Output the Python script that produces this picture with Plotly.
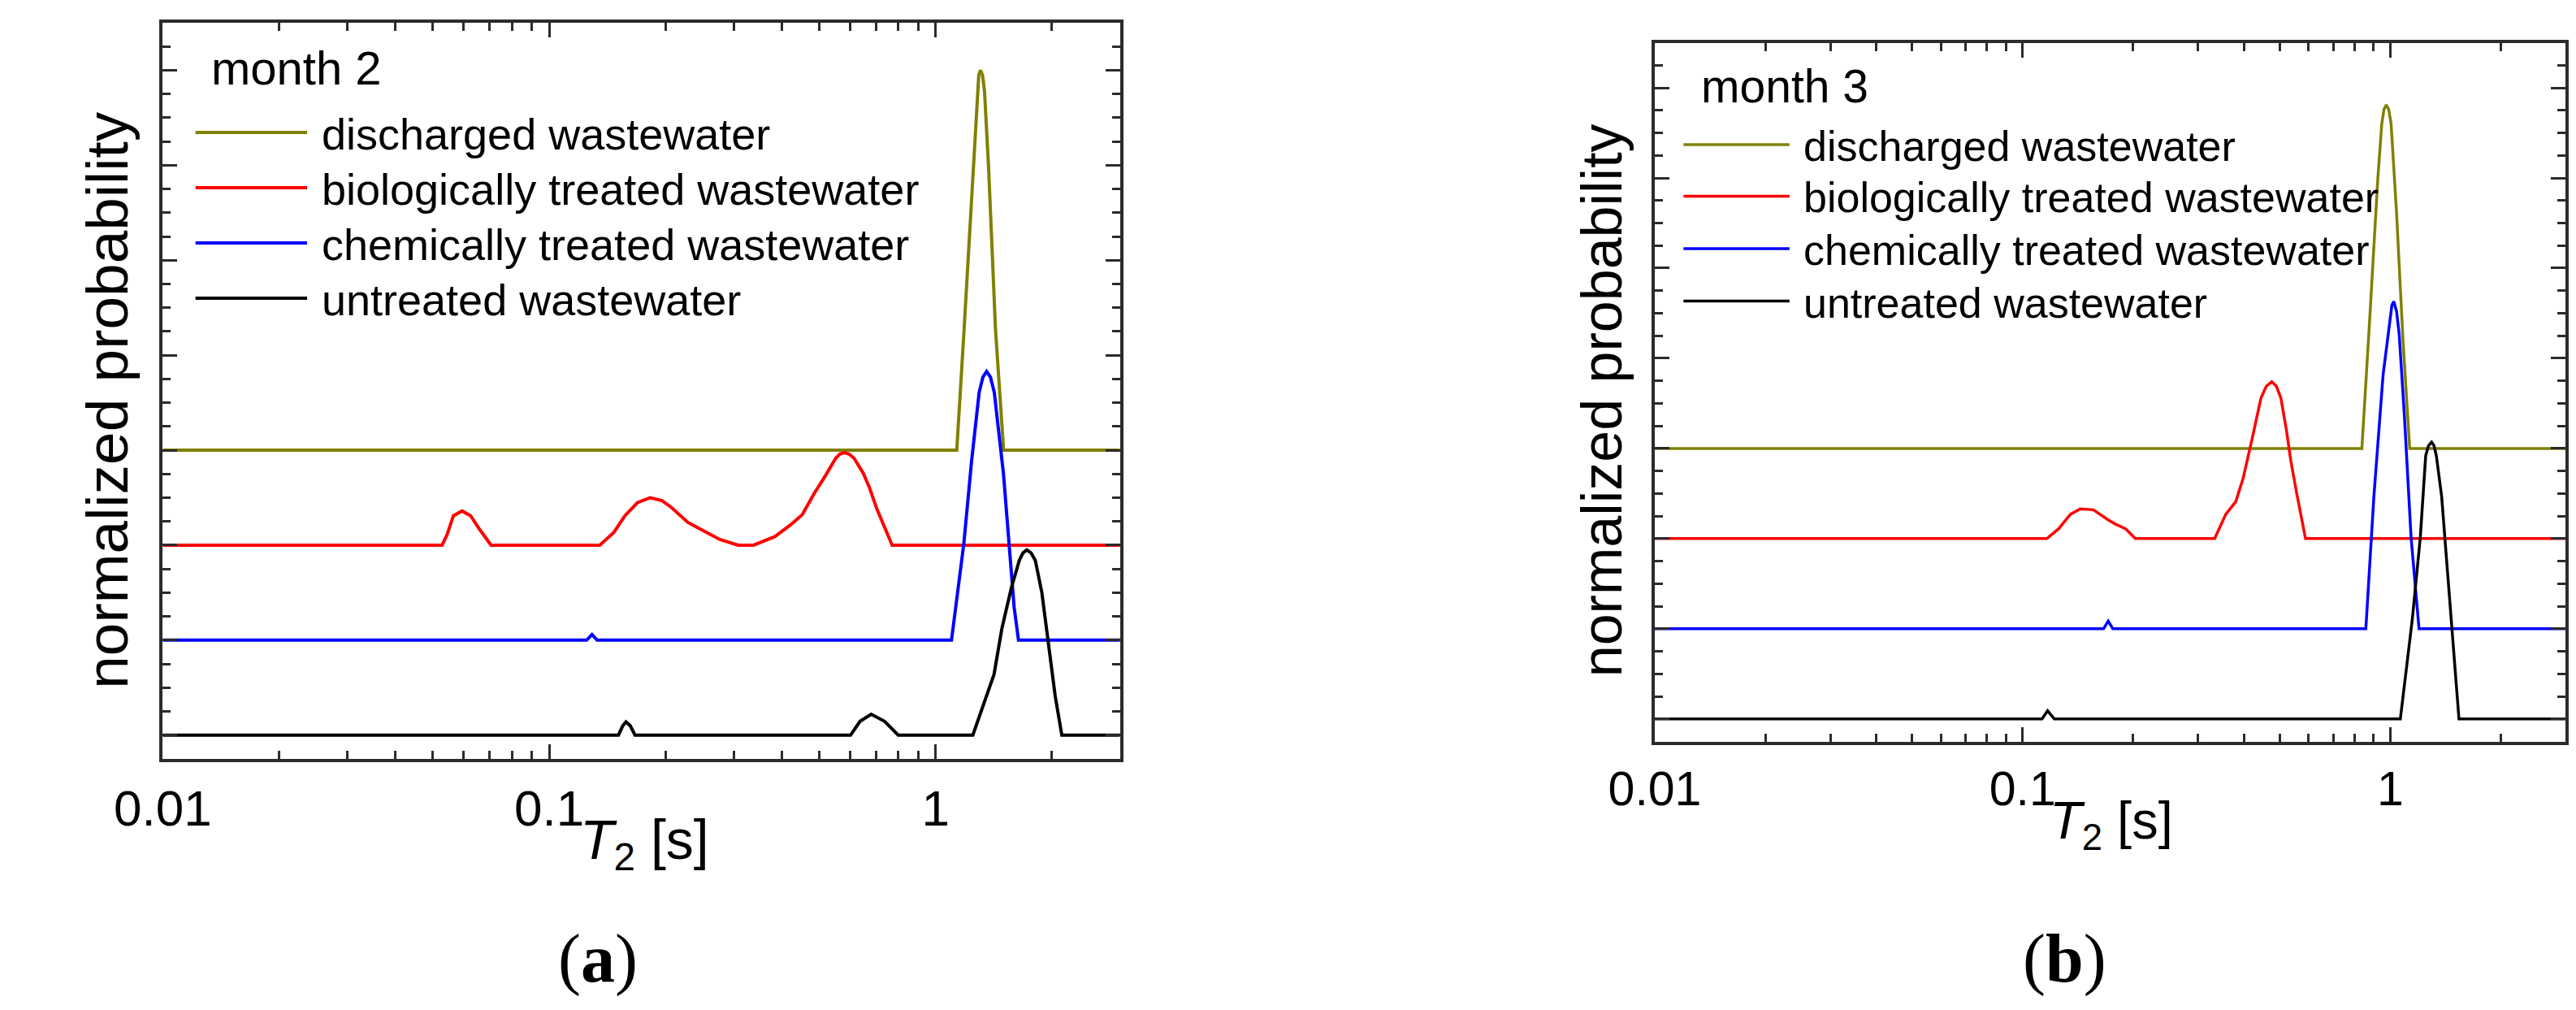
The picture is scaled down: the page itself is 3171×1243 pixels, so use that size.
import plotly.graph_objects as go

W, H = 3171, 1243

series_names = ["discharged wastewater", "biologically treated wastewater",
                "chemically treated wastewater", "untreated wastewater"]
series_colors = ["#808000", "#ff0000", "#0000ff", "#000000"]
series_offsets = [3, 2, 1, 0]

# ---- panel (a): month 2 ----
a_dis_t = [0.01, 1.134, 1.185, 1.250, 1.280, 1.293, 1.306, 1.322, 1.338, 1.371, 1.428, 1.499, 3.0]
a_dis_v = [0, 0, 1.28, 2.97, 3.78, 3.95, 4.0, 3.95, 3.78, 2.97, 1.28, 0, 0]

a_bio_t = [0.01, 0.0528, 0.0544, 0.0565, 0.0595, 0.0626, 0.0662, 0.0707,
           0.1351, 0.1470, 0.1570, 0.1693, 0.1824, 0.1957, 0.2067, 0.2285, 0.2434,
           0.2764, 0.3083, 0.3377, 0.3835, 0.4199, 0.4515, 0.4856, 0.5128, 0.5512,
           0.565, 0.5801, 0.597, 0.6150, 0.6493, 0.6734, 0.7047, 0.7445, 0.7717, 3.0]
a_bio_v = [0, 0, 0.11, 0.31, 0.36, 0.31, 0.16, 0,
           0, 0.135, 0.31, 0.45, 0.50, 0.47, 0.40, 0.24, 0.18,
           0.06, 0, 0, 0.09, 0.21, 0.32, 0.55, 0.70, 0.915,
           0.96, 0.975, 0.96, 0.915, 0.76, 0.61, 0.38, 0.15, 0, 0]

a_chem_t = [0.01, 0.125, 0.129, 0.133, 1.099, 1.140, 1.183, 1.238, 1.296, 1.325, 1.355,
            1.386, 1.418, 1.498, 1.554, 1.596, 1.638, 3.0]
a_chem_v = [0, 0, 0.06, 0, 0, 0.5, 1.02, 1.875, 2.61, 2.77, 2.83,
            2.77, 2.61, 1.75, 0.96, 0.35, 0, 0]

a_unt_t = [0.01, 0.151, 0.155, 0.158, 0.162, 0.1667, 0.602, 0.637, 0.681, 0.738, 0.800,
           1.248, 1.416, 1.485, 1.570, 1.646, 1.683, 1.721, 1.765, 1.811, 1.883, 1.960,
           2.039, 2.121, 3.0]
a_unt_v = [0, 0, 0.10, 0.14, 0.10, 0, 0, 0.145, 0.22, 0.145, 0,
           0, 0.64, 1.13, 1.55, 1.84, 1.92, 1.95, 1.92, 1.84, 1.50, 0.98,
           0.41, 0, 0]

# ---- panel (b): month 3 ----
b_dis_t = [0.01, 0.837, 0.880, 0.925, 0.948, 0.961, 0.975, 0.990, 1.005, 1.039, 1.083, 1.129, 3.0]
b_dis_v = [0, 0, 1.47, 3.0, 3.6, 3.76, 3.81, 3.76, 3.6, 2.64, 1.19, 0, 0]

b_bio_t = [0.01, 0.1165, 0.1254, 0.1350, 0.1436, 0.1557, 0.1705, 0.1791, 0.1905, 0.2026,
           0.333, 0.357, 0.380, 0.398, 0.419, 0.445, 0.460, 0.476, 0.490, 0.504, 0.522,
           0.536, 0.556, 0.588, 3.0]
b_bio_v = [0, 0, 0.11, 0.27, 0.33, 0.32, 0.21, 0.16, 0.11, 0,
           0, 0.27, 0.41, 0.67, 1.07, 1.56, 1.69, 1.74, 1.69, 1.56, 1.2,
           0.87, 0.51, 0, 0]

b_chem_t = [0.01, 0.166, 0.171, 0.176, 0.858, 0.902, 0.956, 0.997, 1.010, 1.022, 1.040,
            1.057, 1.092, 1.139, 1.197, 3.0]
b_chem_v = [0, 0, 0.085, 0, 0, 1.46, 2.82, 3.46, 3.59, 3.63, 3.52,
            3.27, 2.37, 1.01, 0, 0]

b_unt_t = [0.01, 0.113, 0.117, 0.122, 1.065, 1.148, 1.207, 1.248, 1.270, 1.295, 1.315,
           1.334, 1.379, 1.449, 1.537, 3.0]
b_unt_v = [0, 0, 0.09, 0, 0, 1.11, 2.02, 2.92, 3.03, 3.07, 3.03,
           2.92, 2.47, 1.34, 0, 0]

panel_labels = ["month 2", "month 3"]
captions = ["a", "b"]
x_tickvals = [0.01, 0.1, 1]
x_ticktext = ["0.01", "0.1", "1"]
x_minor = [0.02, 0.03, 0.04, 0.05, 0.06, 0.07, 0.08, 0.09,
           0.2, 0.3, 0.4, 0.5, 0.6, 0.7, 0.8, 0.9, 2]

panels = [
    [(a_dis_t, a_dis_v), (a_bio_t, a_bio_v), (a_chem_t, a_chem_v), (a_unt_t, a_unt_v)],
    [(b_dis_t, b_dis_v), (b_bio_t, b_bio_v), (b_chem_t, b_chem_v), (b_unt_t, b_unt_v)],
]


def px(x):
    return x / W


def py(y):
    return 1 - y / H


# layout geometry (pixels)
geo = [
    dict(l=135, r=1336, t=20, b=926, lw=4, tick=62, title=68, leg=54, month=58, ytit=73,
         ytx=65, yty=484, xtx=740, xty=1030, capx=681, capy=1172,
         monx=194, mony=76, legx0=176, legx1=316, legtx=332, legy=[155, 223, 291, 359]),
    dict(l=2007, r=3150, t=44.6, b=904.5, lw=3.5, tick=59, title=65, leg=52, month=57, ytit=70,
         ytx=1941, yty=485, xtx=2580, xty=1006, capx=2521, capy=1172,
         monx=2063, mony=98, legx0=2043, legx1=2176, legtx=2191, legy=[170, 233.5, 298, 362.5]),
]

fig = go.Figure()
annotations = []
shapes = []
font_fam = "Liberation Sans, Arial, sans-serif"

for p, traces in enumerate(panels):
    g = geo[p]
    xa = "x" if p == 0 else "x2"
    ya = "y" if p == 0 else "y2"
    for k in range(4):
        t, v = traces[k]
        off = series_offsets[k]
        fig.add_trace(go.Scatter(
            x=t, y=[off + val for val in v], mode="lines",
            line=dict(color=series_colors[k], width=g["lw"]),
            name=series_names[k], showlegend=False, xaxis=xa, yaxis=ya,
            hoverinfo="skip"))
    axis_common = dict(showgrid=False, zeroline=False, showline=True, linecolor="#2b2b2b",
                       linewidth=4, mirror="ticks", ticks="inside", tickcolor="#2b2b2b",
                       tickwidth=3, ticklen=18)
    xkey = "xaxis" if p == 0 else "xaxis2"
    ykey = "yaxis" if p == 0 else "yaxis2"
    fig.layout[xkey] = dict(
        type="log", range=[-2, 0.4771], domain=[px(g["l"]), px(g["r"])],
        anchor=ya, tickmode="array", tickvals=x_tickvals, ticktext=x_ticktext,
        tickfont=dict(family=font_fam, size=g["tick"], color="#000"),
        ticklabelstandoff=4,
        minor=dict(tickmode="array", tickvals=x_minor, ticks="inside", ticklen=10,
                   tickwidth=3, tickcolor="#2b2b2b"),
        **axis_common)
    fig.layout[ykey] = dict(
        range=[-0.25, 7.5], domain=[py(g["b"]), py(g["t"])], anchor=xa,
        tickmode="linear", tick0=0, dtick=1, showticklabels=False,
        minor=dict(dtick=0.25, tick0=0, ticks="inside", ticklen=10, tickwidth=3,
                   tickcolor="#2b2b2b"),
        **axis_common)

    annotations.append(dict(x=px(g["ytx"]), y=py(g["yty"]), xref="paper", yref="paper",
                            text="normalized probability", textangle=-90, showarrow=False,
                            xanchor="center", yanchor="middle",
                            font=dict(family=font_fam, size=g["ytit"], color="#000")))
    annotations.append(dict(x=px(g["xtx"]), y=py(g["xty"]), xref="paper", yref="paper",
                            text="<i>T</i><sub>2</sub> [s]", showarrow=False,
                            xanchor="center", yanchor="middle",
                            font=dict(family=font_fam, size=g["title"], color="#000")))
    annotations.append(dict(x=px(g["capx"]), y=py(g["capy"]), xref="paper", yref="paper",
                            text="(<b>" + captions[p] + "</b>)", showarrow=False,
                            xanchor="center", yanchor="middle",
                            font=dict(family="Liberation Serif, Times New Roman, serif",
                                      size=84, color="#000")))
    annotations.append(dict(x=px(g["monx"]), y=py(g["mony"]), xref="paper", yref="paper",
                            text=panel_labels[p], showarrow=False,
                            xanchor="left", yanchor="middle",
                            font=dict(family=font_fam, size=g["month"], color="#000")))
    for k in range(4):
        yy = g["legy"][k]
        shapes.append(dict(type="line", xref="paper", yref="paper",
                           x0=px(g["legx0"]), x1=px(g["legx1"]), y0=py(yy), y1=py(yy),
                           line=dict(color=series_colors[k], width=g["lw"])))
        annotations.append(dict(x=px(g["legtx"]), y=py(yy + 2), xref="paper", yref="paper",
                                text=series_names[k], showarrow=False,
                                xanchor="left", yanchor="middle",
                                font=dict(family=font_fam, size=g["leg"], color="#000")))

fig.update_layout(width=W, height=H, margin=dict(l=0, r=0, t=0, b=0),
                  paper_bgcolor="white", plot_bgcolor="white",
                  annotations=annotations, shapes=shapes, showlegend=False)

fig.write_html("out.html")
